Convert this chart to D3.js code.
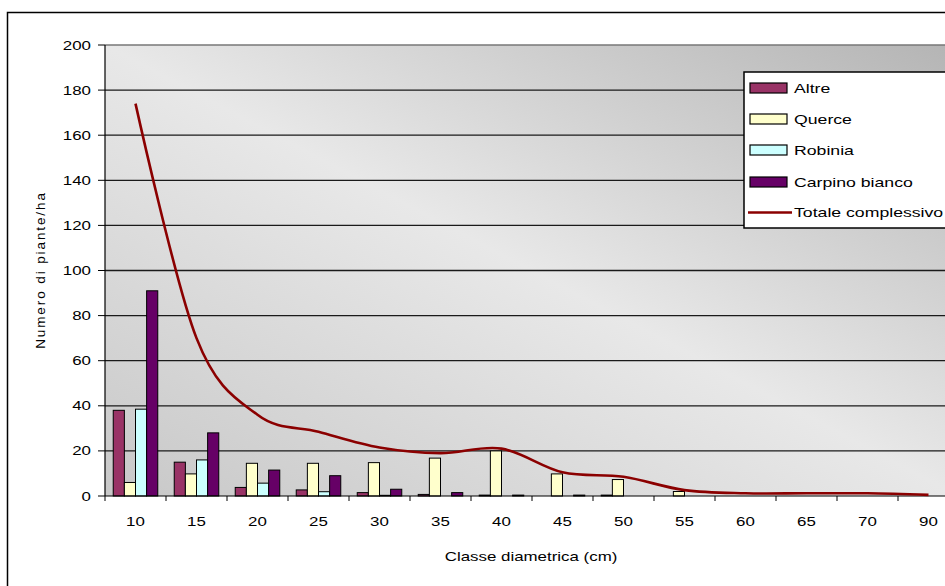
<!DOCTYPE html>
<html><head><meta charset="utf-8">
<script src="https://cdn.jsdelivr.net/npm/d3@7"></script>
<style>
body{margin:0;background:#fff}
svg{display:block}
text{font-family:"Liberation Sans",Arial,sans-serif;fill:#000}
</style>
</head><body>
<svg id="c" width="945" height="586"></svg>
<script>
const categories = ["10","15","20","25","30","35","40","45","50","55","60","65","70","90"];
const seriesNames = ["Altre","Querce","Robinia","Carpino bianco"];
const altre   = [38, 15, 3.8, 2.7, 1.5, 0.7, 0.4, 0, 0.4, 0, 0, 0, 0, 0];
const querce  = [6, 9.8, 14.5, 14.5, 14.8, 16.8, 20, 9.8, 7.3, 2, 0, 0, 0, 0];
const robinia = [38.5, 16, 5.7, 1.9, 0.3, 0, 0, 0, 0, 0, 0, 0, 0, 0];
const carpino = [91, 28, 11.5, 9, 3, 1.5, 0.4, 0.4, 0, 0, 0, 0, 0, 0];
const lineName = "Totale complessivo";
const totale  = [174, 70, 36, 28.5, 21.5, 19, 21, 10.5, 8.5, 2.6, 1.2, 1.2, 1.2, 0.5];
const yTicks = [0, 20, 40, 60, 80, 100, 120, 140, 160, 180, 200];
const xTitle = "Classe diametrica (cm)";
const yTitle = "Numero di piante/ha";

const seriesValues = [altre, querce, robinia, carpino];
const colors = ["#993366", "#FFFFCC", "#CCFFFF", "#660066"];
const lineColor = "#8B0000";
const SX = 1.3; // horizontal text stretch

const svg = d3.select("#c");
const L = 105, T = 45, B = 496, R = 959;

// outer chart border
svg.append("rect").attr("x", 7.5).attr("y", 12.5).attr("width", 1000).attr("height", 700)
  .attr("fill", "#fff").attr("stroke", "#000").attr("stroke-width", 1.5);

const defs = svg.append("defs");
const g = defs.append("linearGradient").attr("id", "bg")
  .attr("x1", 0).attr("y1", 1).attr("x2", 1).attr("y2", 0);
g.append("stop").attr("offset", 0).attr("stop-color", "#c8c8c8");
g.append("stop").attr("offset", 0.5).attr("stop-color", "#e8e8e8");
g.append("stop").attr("offset", 1).attr("stop-color", "#b4b4b4");

const x = d3.scaleBand().domain(categories).range([L, R]).padding(0);
const bw = x.bandwidth();
const pad = bw * 0.135;
const xi = d3.scaleBand().domain(seriesNames).range([pad, bw - pad]).padding(0);
const y = d3.scaleLinear().domain([0, 200]).range([B, T]);

// plot background
svg.append("rect").attr("x", L).attr("y", T).attr("width", R - L).attr("height", B - T)
  .attr("fill", "url(#bg)");

// gridlines
svg.append("g").selectAll("line").data(yTicks.filter(d => d > 0)).join("line")
  .attr("x1", L).attr("x2", R).attr("y1", d => y(d)).attr("y2", d => y(d))
  .attr("stroke", d => d === 200 ? "#777" : "#1a1a1a").attr("stroke-width", 1.3);

// bars
const rows = categories.map((c, i) => ({c, vals: seriesValues.map((s, j) => ({name: seriesNames[j], v: s[i], col: colors[j]}))}));
const cg = svg.append("g").selectAll("g").data(rows).join("g")
  .attr("transform", d => `translate(${x(d.c)},0)`);
cg.selectAll("rect").data(d => d.vals.filter(v => v.v > 0)).join("rect")
  .attr("x", d => xi(d.name)).attr("width", xi.bandwidth())
  .attr("y", d => y(d.v)).attr("height", d => B - y(d.v))
  .attr("fill", d => d.col).attr("stroke", "#000").attr("stroke-width", 1);

// axes
const axG = svg.append("g");
axG.append("line").attr("x1", L).attr("x2", L).attr("y1", T).attr("y2", B).attr("stroke", "#000").attr("stroke-width", 1.2);
axG.append("line").attr("x1", L).attr("x2", R).attr("y1", B).attr("y2", B).attr("stroke", "#000").attr("stroke-width", 1.2);
axG.selectAll(".yt").data(yTicks).join("line").attr("class", "yt")
  .attr("x1", L - 7).attr("x2", L).attr("y1", d => y(d)).attr("y2", d => y(d)).attr("stroke", "#000");
const bounds = categories.map(c => x(c)).concat([R]);
axG.selectAll(".xt").data(bounds).join("line").attr("class", "xt")
  .attr("x1", d => d).attr("x2", d => d).attr("y1", B).attr("y2", B + 5).attr("stroke", "#000");

function stretchText(sel, px, py, anchor, size) {
  sel.attr("transform", (d, i) => `translate(${px(d, i)},${py(d, i)}) scale(${SX},1)`)
    .attr("text-anchor", anchor).attr("font-size", size);
}
stretchText(axG.selectAll(".yl").data(yTicks).join("text").attr("class", "yl").text(d => d),
  () => 91, d => y(d) + 4.5, "end", 13);
stretchText(axG.selectAll(".xl").data(categories).join("text").attr("class", "xl").text(d => d),
  d => x(d) + bw / 2, () => 526, "middle", 13);

svg.append("text").text(xTitle).attr("transform", `translate(531,561) scale(${SX},1)`)
  .attr("text-anchor", "middle").attr("font-size", 13);
svg.append("text").text(yTitle).attr("transform", `translate(45,270) rotate(-90)`)
  .attr("text-anchor", "middle").attr("font-size", 13.5).attr("letter-spacing", 1.9);

// total line
const line = d3.line().x((d, i) => x(categories[i]) + bw / 2).y(d => y(d)).curve(d3.curveCardinal.tension(0));
svg.append("path").datum(totale).attr("d", line).attr("fill", "none")
  .attr("stroke", lineColor).attr("stroke-width", 2.6);

// legend
const lg = svg.append("g");
lg.append("rect").attr("x", 744).attr("y", 72).attr("width", 260).attr("height", 156)
  .attr("fill", "#fff").attr("stroke", "#000").attr("stroke-width", 1.5);
const legItems = seriesNames.map((n, i) => ({name: n, col: colors[i], type: "bar"}))
  .concat([{name: lineName, col: lineColor, type: "line"}]);
const ly = [88, 119, 150, 182, 212.5];
const li = lg.selectAll("g").data(legItems).join("g").attr("transform", (d, i) => `translate(0,${ly[i]})`);
li.filter(d => d.type === "bar").append("rect").attr("x", 750).attr("y", -5).attr("width", 37).attr("height", 10)
  .attr("fill", d => d.col).attr("stroke", "#000").attr("stroke-width", 1.2);
li.filter(d => d.type === "line").append("line").attr("x1", 748).attr("x2", 792).attr("y1", 0).attr("y2", 0)
  .attr("stroke", d => d.col).attr("stroke-width", 2.6);
li.append("text").text(d => d.name).attr("transform", `translate(794,4.5) scale(1.36,1)`).attr("font-size", 13);
</script>
</body></html>
